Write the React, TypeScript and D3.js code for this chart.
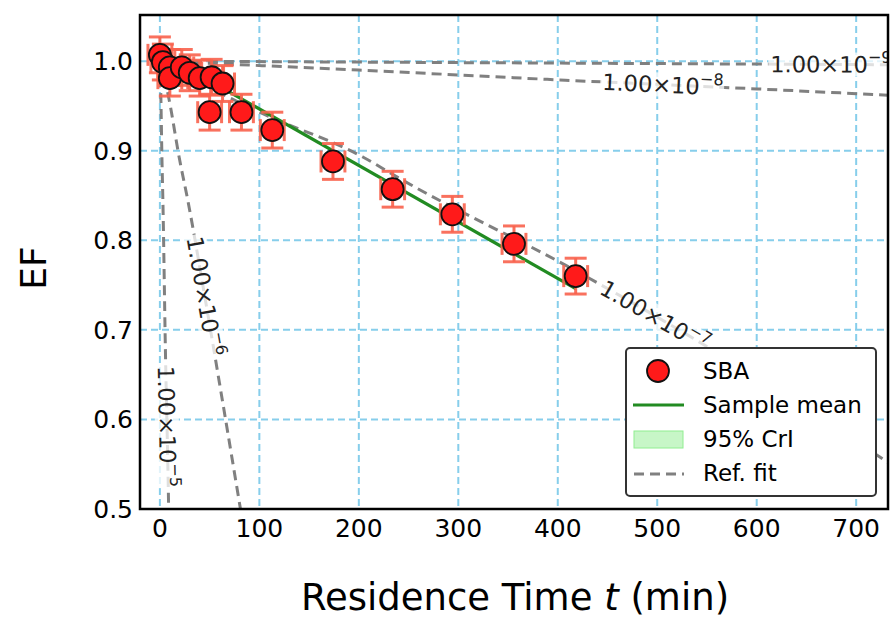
import React from "react";
import * as d3 from "d3";

// ---- data ----
const sbaTime = [0, 3, 10, 10, 22, 30, 40, 52, 63, 50, 82, 113, 174, 234, 294, 356, 418];
const sbaEF = [1.007, 0.999, 0.993, 0.981, 0.993, 0.987, 0.981, 0.982, 0.975, 0.943, 0.943, 0.923, 0.888, 0.857, 0.829, 0.796, 0.760];
const sbaTimeErr = 12;
const sbaEFErr = 0.02;

const meanTime = [55, 418];
const meanEF = [0.975, 0.746];
const criLower = [0.9735, 0.7445];
const criUpper = [0.9765, 0.7475];

const refLabels = ["−5", "−6", "−7", "−8", "−9"];
const refTime = [
  [0, 0.9, 2.1, 3, 5.5, 8.8, 9.5],
  [0, 8, 20, 28, 45, 60, 81, 84],
  [0, 100, 204, 241, 418, 540, 732],
  [0, 200, 402, 600, 732],
  [0, 366, 732],
];
const refEF = [
  [1.0, 0.964, 0.889, 0.845, 0.68, 0.5, 0.45],
  [1.0, 0.964, 0.889, 0.845, 0.738, 0.64, 0.5, 0.48],
  [1.0, 0.943, 0.893, 0.869, 0.766, 0.688, 0.552],
  [1.0, 0.99, 0.979, 0.969, 0.962],
  [1.0, 0.998, 0.996],
];
const refLabelTime = [7.1, 45, 497, 505, 674];

const xTicks = [0, 100, 200, 300, 400, 500, 600, 700];
const yTicks = [0.5, 0.6, 0.7, 0.8, 0.9, 1.0];

const legendLabels = ["SBA", "Sample mean", "95% CrI", "Ref. fit"];

// ---- layout ----
const W = 896;
const H = 618;
const left = 140, right = 888, top = 15, bottom = 509;
const FONT = "'DejaVu Sans', sans-serif";

const x = d3.scaleLinear().domain([-20, 732]).range([left, right]);
const y = d3.scaleLinear().domain([0.5, 1.0515]).range([bottom, top]);

function interp(ts: number[], vs: number[], t: number) {
  for (let i = 0; i < ts.length - 1; i++) {
    if (t >= ts[i] && t <= ts[i + 1]) {
      const f = (t - ts[i]) / (ts[i + 1] - ts[i]);
      return vs[i] + f * (vs[i + 1] - vs[i]);
    }
  }
  return vs[vs.length - 1];
}

export default function App() {
  const line = d3
    .line<[number, number]>()
    .x((d) => x(d[0]))
    .y((d) => y(d[1]))
    .curve(d3.curveMonotoneX);

  const area = d3
    .area<number>()
    .x((_, i) => x(meanTime[i]))
    .y0((_, i) => y(criLower[i]))
    .y1((_, i) => y(criUpper[i]));

  const errColor = "#f8624c";
  const cap = 11;

  return (
    <svg
      width={W}
      height={H}
      style={{ position: "absolute", left: 0, top: 0, background: "#fff", fontFamily: FONT }}
    >
      <defs>
        <clipPath id="plotClip">
          <rect x={left} y={top} width={right - left} height={bottom - top} />
        </clipPath>
      </defs>
      <rect x={0} y={0} width={W} height={H} fill="#fff" />

      {/* grid */}
      <g stroke="#87ceeb" strokeWidth={2} strokeDasharray="7,4">
        {xTicks.map((t) => (
          <line key={"gx" + t} x1={x(t)} x2={x(t)} y1={top} y2={bottom} />
        ))}
        {yTicks.map((t) => (
          <line key={"gy" + t} x1={left} x2={right} y1={y(t)} y2={y(t)} />
        ))}
      </g>

      <g clipPath="url(#plotClip)">
        {/* CrI band */}
        <path d={area(meanTime) || ""} fill="#90ee90" fillOpacity={0.5} />
        {/* reference fits */}
        {refTime.map((ts, k) => (
          <path
            key={"ref" + k}
            d={line(ts.map((t, i) => [t, refEF[k][i]] as [number, number])) || ""}
            fill="none"
            stroke="#808080"
            strokeWidth={3}
            strokeDasharray="10,6"
          />
        ))}
        {/* labels on reference fits */}
        {refTime.map((ts, k) => {
          const t = refLabelTime[k];
          const dt = (ts[ts.length - 1] - ts[0]) * 0.01;
          const px = x(t);
          const py = y(interp(ts, refEF[k], t));
          const ax = x(t + dt) - x(t - dt);
          const ay = y(interp(ts, refEF[k], t + dt)) - y(interp(ts, refEF[k], t - dt));
          const ang = (Math.atan2(ay, ax) * 180) / Math.PI;
          return (
            <g key={"lab" + k} transform={`translate(${px},${py}) rotate(${ang})`}>
              <rect x={-62} y={-12} width={124} height={24} fill="#fff" fillOpacity={0.75} />
              <text x={-60} y={8} fontSize={22.5} fill="#222" style={{ fontFamily: FONT }}>
                1.00×10
                <tspan fontSize={16} dy={-10}>
                  {refLabels[k]}
                </tspan>
              </text>
            </g>
          );
        })}
        {/* sample mean */}
        <path
          d={line(meanTime.map((t, i) => [t, meanEF[i]] as [number, number])) || ""}
          fill="none"
          stroke="#228b22"
          strokeWidth={3.2}
        />
        {/* error bars */}
        <g stroke={errColor} strokeOpacity={0.9} strokeWidth={3}>
          {sbaTime.map((t, i) => {
            const cx = x(t), cy = y(sbaEF[i]);
            const x0 = x(t - sbaTimeErr), x1 = x(t + sbaTimeErr);
            const y0 = y(sbaEF[i] - sbaEFErr), y1 = y(sbaEF[i] + sbaEFErr);
            return (
              <g key={"eb" + i}>
                <line x1={cx} x2={cx} y1={y0} y2={y1} />
                <line x1={x0} x2={x1} y1={cy} y2={cy} />
                <line x1={cx - cap} x2={cx + cap} y1={y0} y2={y0} />
                <line x1={cx - cap} x2={cx + cap} y1={y1} y2={y1} />
                <line x1={x0} x2={x0} y1={cy - cap} y2={cy + cap} />
                <line x1={x1} x2={x1} y1={cy - cap} y2={cy + cap} />
              </g>
            );
          })}
        </g>
        {/* points */}
        {sbaTime.map((t, i) => (
          <circle
            key={"pt" + i}
            cx={x(t)}
            cy={y(sbaEF[i])}
            r={11}
            fill="#ff1a1a"
            stroke="#111"
            strokeWidth={1.8}
          />
        ))}
      </g>

      {/* spines */}
      <rect
        x={left}
        y={top}
        width={right - left}
        height={bottom - top}
        fill="none"
        stroke="#000"
        strokeWidth={2.5}
      />

      {/* tick labels */}
      {xTicks.map((t) => (
        <text key={"xt" + t} x={x(t)} y={537} fontSize={25} textAnchor="middle" fill="#000">
          {t}
        </text>
      ))}
      {yTicks.map((t) => (
        <text
          key={"yt" + t}
          x={133}
          y={y(t) + 9}
          fontSize={25}
          textAnchor="end"
          fill="#000"
        >
          {t.toFixed(1)}
        </text>
      ))}

      {/* axis titles */}
      <text x={515} y={610} fontSize={37} textAnchor="middle" fill="#000">
        Residence Time <tspan fontStyle="italic">t</tspan> (min)
      </text>
      <text
        transform="translate(46,268) rotate(-90)"
        fontSize={36}
        textAnchor="middle"
        fill="#000"
      >
        EF
      </text>

      {/* legend */}
      <g>
        <rect
          x={626}
          y={348}
          width={250}
          height={148}
          rx={4}
          fill="#fff"
          stroke="#333"
          strokeWidth={2}
        />
        <circle cx={658} cy={371} r={11} fill="#ff1a1a" stroke="#111" strokeWidth={1.8} />
        <line x1={633} x2={684} y1={405} y2={405} stroke="#228b22" strokeWidth={3.2} />
        <rect x={634} y={431} width={49} height={17} fill="#90ee90" fillOpacity={0.5} stroke="#90ee90" strokeWidth={1} />
        <line x1={634} x2={684} y1={474} y2={474} stroke="#808080" strokeWidth={3} strokeDasharray="10,6" />
        {legendLabels.map((l, i) => (
          <text key={"lg" + i} x={703} y={379 + i * 34} fontSize={23} fill="#000">
            {l}
          </text>
        ))}
      </g>
    </svg>
  );
}
